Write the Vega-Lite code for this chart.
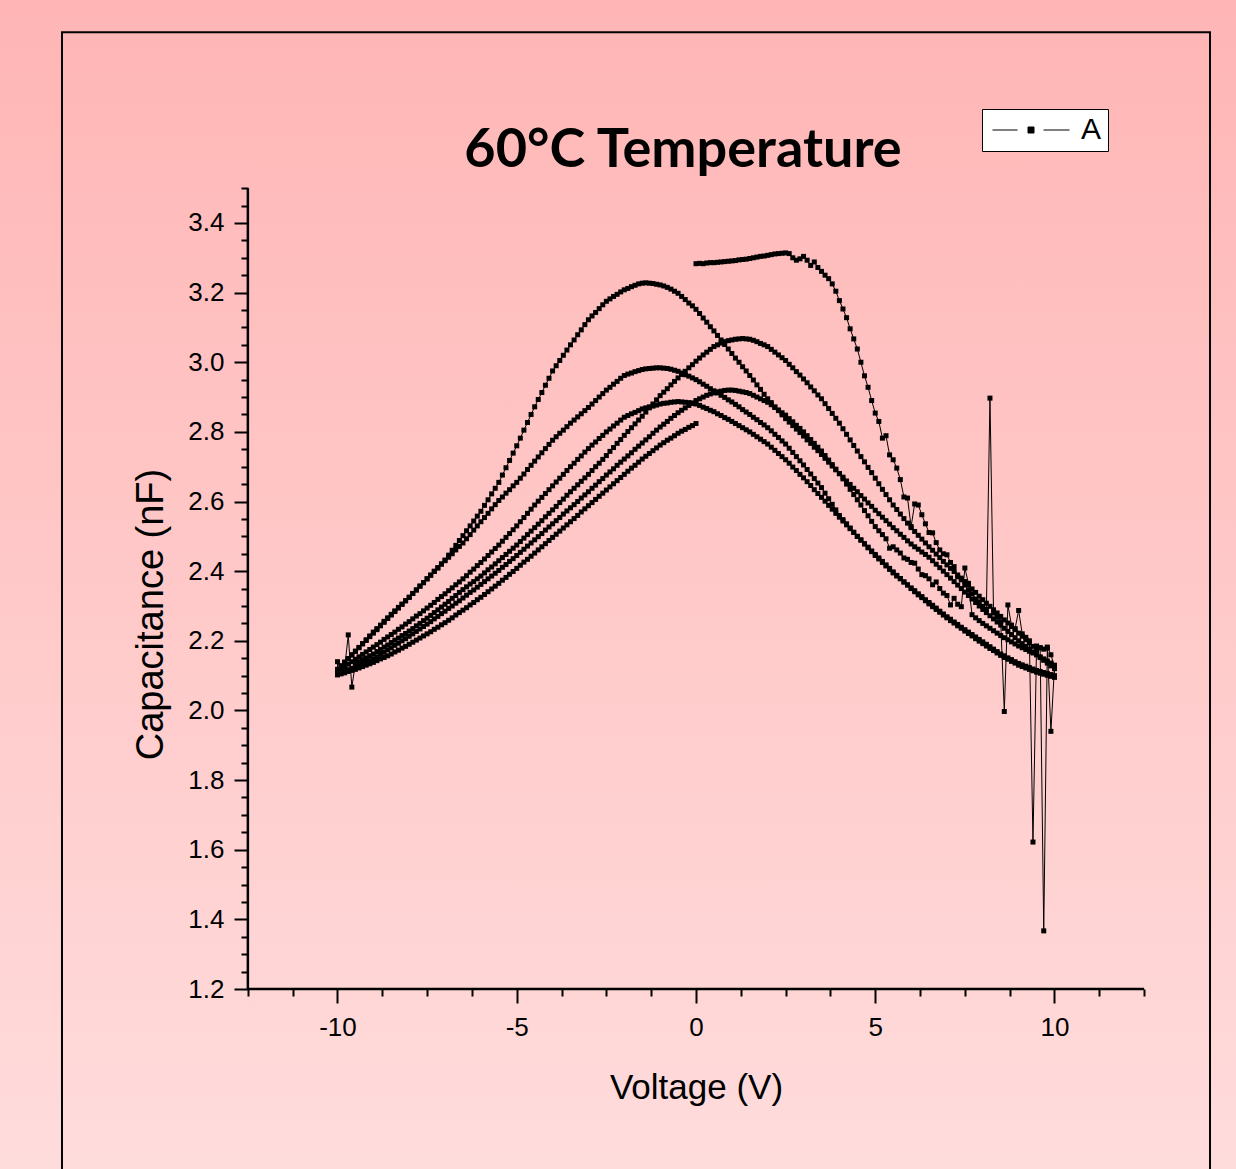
{
"$schema":"https://vega.github.io/schema/vega-lite/v6.json",
"width":1236,"height":1169,
"autosize":{"type":"none"},
"padding":0,
"background":"#FFC8C8",
"config":{"view":{"stroke":null},"font":"Liberation Sans"},
"title":{"text":"60°C Temperature","font":"Lato","fontSize":54,"fontWeight":"bold","color":"black","anchor":"middle","dx":65,"offset":-221,"baseline":"alphabetic"},
"data":{"values":[
{"v":0,"c":3.283},{"v":0.1,"c":3.284},{"v":0.2,"c":3.283},{"v":0.3,"c":3.285},{"v":0.4,"c":3.286},{"v":0.5,"c":3.286},{"v":0.6,"c":3.287},{"v":0.7,"c":3.288},{"v":0.8,"c":3.289},{"v":0.9,"c":3.29},{"v":1,"c":3.291},{"v":1.1,"c":3.292},{"v":1.2,"c":3.294},{"v":1.3,"c":3.295},{"v":1.4,"c":3.296},{"v":1.5,"c":3.298},{"v":1.6,"c":3.3},{"v":1.7,"c":3.302},{"v":1.8,"c":3.304},{"v":1.9,"c":3.305},{"v":2,"c":3.307},{"v":2.1,"c":3.309},{"v":2.2,"c":3.311},{"v":2.3,"c":3.312},{"v":2.4,"c":3.313},{"v":2.5,"c":3.314},{"v":2.6,"c":3.312},{"v":2.7,"c":3.3},{"v":2.8,"c":3.293},{"v":2.9,"c":3.297},{"v":3,"c":3.304},{"v":3.1,"c":3.293},{"v":3.2,"c":3.278},{"v":3.3,"c":3.288},{"v":3.4,"c":3.272},{"v":3.5,"c":3.261},{"v":3.6,"c":3.25},{"v":3.7,"c":3.24},{"v":3.8,"c":3.225},{"v":3.9,"c":3.204},{"v":4,"c":3.177},{"v":4.1,"c":3.153},{"v":4.2,"c":3.128},{"v":4.3,"c":3.096},{"v":4.4,"c":3.067},{"v":4.5,"c":3.038},{"v":4.6,"c":3.0},{"v":4.7,"c":2.961},{"v":4.8,"c":2.928},{"v":4.9,"c":2.89},{"v":5,"c":2.854},{"v":5.1,"c":2.83},{"v":5.2,"c":2.782},{"v":5.3,"c":2.789},{"v":5.4,"c":2.734},{"v":5.5,"c":2.72},{"v":5.6,"c":2.696},{"v":5.7,"c":2.663},{"v":5.8,"c":2.613},{"v":5.9,"c":2.61},{"v":6,"c":2.528},{"v":6.1,"c":2.593},{"v":6.2,"c":2.59},{"v":6.3,"c":2.562},{"v":6.4,"c":2.536},{"v":6.5,"c":2.511},{"v":6.6,"c":2.51},{"v":6.7,"c":2.482},{"v":6.8,"c":2.461},{"v":6.9,"c":2.45},{"v":7,"c":2.447},{"v":7.1,"c":2.425},{"v":7.2,"c":2.413},{"v":7.3,"c":2.384},{"v":7.4,"c":2.375},{"v":7.5,"c":2.36},{"v":7.6,"c":2.345},{"v":7.7,"c":2.335},{"v":7.8,"c":2.32},{"v":7.9,"c":2.312},{"v":8,"c":2.299},{"v":8.1,"c":2.29},{"v":8.2,"c":2.897},{"v":8.3,"c":2.28},{"v":8.4,"c":2.268},{"v":8.5,"c":2.255},{"v":8.6,"c":1.997},{"v":8.7,"c":2.303},{"v":8.8,"c":2.245},{"v":8.9,"c":2.235},{"v":9,"c":2.287},{"v":9.1,"c":2.22},{"v":9.2,"c":2.21},{"v":9.3,"c":2.2},{"v":9.4,"c":1.622},{"v":9.5,"c":2.185},{"v":9.6,"c":2.18},{"v":9.7,"c":1.367},{"v":9.8,"c":2.179},{"v":9.9,"c":1.94},{"v":10,"c":2.126},
{"v":10,"c":2.12},{"v":9.9,"c":2.128},{"v":9.8,"c":2.136},{"v":9.7,"c":2.144},{"v":9.6,"c":2.152},{"v":9.5,"c":2.16},{"v":9.4,"c":2.168},{"v":9.3,"c":2.176},{"v":9.2,"c":2.184},{"v":9.1,"c":2.192},{"v":9,"c":2.2},{"v":8.9,"c":2.209},{"v":8.8,"c":2.218},{"v":8.7,"c":2.227},{"v":8.6,"c":2.236},{"v":8.5,"c":2.245},{"v":8.4,"c":2.254},{"v":8.3,"c":2.263},{"v":8.2,"c":2.272},{"v":8.1,"c":2.281},{"v":8,"c":2.29},{"v":7.9,"c":2.3},{"v":7.8,"c":2.31},{"v":7.7,"c":2.32},{"v":7.6,"c":2.33},{"v":7.5,"c":2.34},{"v":7.4,"c":2.35},{"v":7.3,"c":2.36},{"v":7.2,"c":2.37},{"v":7.1,"c":2.38},{"v":7,"c":2.39},{"v":6.9,"c":2.4},{"v":6.8,"c":2.41},{"v":6.7,"c":2.42},{"v":6.6,"c":2.43},{"v":6.5,"c":2.44},{"v":6.4,"c":2.448},{"v":6.3,"c":2.455},{"v":6.2,"c":2.463},{"v":6.1,"c":2.47},{"v":6,"c":2.478},{"v":5.9,"c":2.487},{"v":5.8,"c":2.497},{"v":5.7,"c":2.506},{"v":5.6,"c":2.516},{"v":5.5,"c":2.525},{"v":5.4,"c":2.535},{"v":5.3,"c":2.545},{"v":5.2,"c":2.555},{"v":5.1,"c":2.565},{"v":5,"c":2.575},{"v":4.9,"c":2.586},{"v":4.8,"c":2.596},{"v":4.7,"c":2.607},{"v":4.6,"c":2.617},{"v":4.5,"c":2.628},{"v":4.4,"c":2.638},{"v":4.3,"c":2.649},{"v":4.2,"c":2.659},{"v":4.1,"c":2.67},{"v":4,"c":2.68},{"v":3.9,"c":2.691},{"v":3.8,"c":2.702},{"v":3.7,"c":2.713},{"v":3.6,"c":2.724},{"v":3.5,"c":2.735},{"v":3.4,"c":2.746},{"v":3.3,"c":2.756},{"v":3.2,"c":2.767},{"v":3.1,"c":2.777},{"v":3,"c":2.788},{"v":2.9,"c":2.798},{"v":2.8,"c":2.808},{"v":2.7,"c":2.818},{"v":2.6,"c":2.828},{"v":2.5,"c":2.838},{"v":2.4,"c":2.849},{"v":2.3,"c":2.861},{"v":2.2,"c":2.872},{"v":2.1,"c":2.884},{"v":2,"c":2.895},{"v":1.9,"c":2.908},{"v":1.8,"c":2.922},{"v":1.7,"c":2.935},{"v":1.6,"c":2.949},{"v":1.5,"c":2.962},{"v":1.4,"c":2.975},{"v":1.3,"c":2.987},{"v":1.2,"c":3.0},{"v":1.1,"c":3.012},{"v":1,"c":3.025},{"v":0.9,"c":3.038},{"v":0.8,"c":3.051},{"v":0.7,"c":3.064},{"v":0.6,"c":3.077},{"v":0.5,"c":3.09},{"v":0.4,"c":3.102},{"v":0.3,"c":3.115},{"v":0.2,"c":3.127},{"v":0.1,"c":3.14},{"v":0,"c":3.152},{"v":-0.1,"c":3.162},{"v":-0.2,"c":3.17},{"v":-0.3,"c":3.18},{"v":-0.4,"c":3.189},{"v":-0.5,"c":3.198},{"v":-0.6,"c":3.204},{"v":-0.7,"c":3.21},{"v":-0.8,"c":3.215},{"v":-0.9,"c":3.219},{"v":-1,"c":3.222},{"v":-1.1,"c":3.224},{"v":-1.2,"c":3.226},{"v":-1.3,"c":3.227},{"v":-1.4,"c":3.228},{"v":-1.5,"c":3.227},{"v":-1.6,"c":3.225},{"v":-1.7,"c":3.221},{"v":-1.8,"c":3.217},{"v":-1.9,"c":3.212},{"v":-2,"c":3.208},{"v":-2.1,"c":3.202},{"v":-2.2,"c":3.195},{"v":-2.3,"c":3.189},{"v":-2.4,"c":3.182},{"v":-2.5,"c":3.175},{"v":-2.6,"c":3.165},{"v":-2.7,"c":3.154},{"v":-2.8,"c":3.143},{"v":-2.9,"c":3.133},{"v":-3,"c":3.122},{"v":-3.1,"c":3.108},{"v":-3.2,"c":3.093},{"v":-3.3,"c":3.079},{"v":-3.4,"c":3.064},{"v":-3.5,"c":3.05},{"v":-3.6,"c":3.035},{"v":-3.7,"c":3.02},{"v":-3.8,"c":3.005},{"v":-3.9,"c":2.99},{"v":-4,"c":2.975},{"v":-4.1,"c":2.954},{"v":-4.2,"c":2.934},{"v":-4.3,"c":2.913},{"v":-4.4,"c":2.893},{"v":-4.5,"c":2.872},{"v":-4.6,"c":2.85},{"v":-4.7,"c":2.827},{"v":-4.8,"c":2.805},{"v":-4.9,"c":2.782},{"v":-5,"c":2.76},{"v":-5.1,"c":2.739},{"v":-5.2,"c":2.718},{"v":-5.3,"c":2.697},{"v":-5.4,"c":2.676},{"v":-5.5,"c":2.655},{"v":-5.6,"c":2.638},{"v":-5.7,"c":2.622},{"v":-5.8,"c":2.605},{"v":-5.9,"c":2.589},{"v":-6,"c":2.572},{"v":-6.1,"c":2.558},{"v":-6.2,"c":2.544},{"v":-6.3,"c":2.53},{"v":-6.4,"c":2.516},{"v":-6.5,"c":2.502},{"v":-6.6,"c":2.488},{"v":-6.7,"c":2.474},{"v":-6.8,"c":2.46},{"v":-6.9,"c":2.446},{"v":-7,"c":2.432},{"v":-7.1,"c":2.421},{"v":-7.2,"c":2.41},{"v":-7.3,"c":2.4},{"v":-7.4,"c":2.389},{"v":-7.5,"c":2.378},{"v":-7.6,"c":2.367},{"v":-7.7,"c":2.357},{"v":-7.8,"c":2.346},{"v":-7.9,"c":2.336},{"v":-8,"c":2.325},{"v":-8.1,"c":2.315},{"v":-8.2,"c":2.305},{"v":-8.3,"c":2.296},{"v":-8.4,"c":2.286},{"v":-8.5,"c":2.276},{"v":-8.6,"c":2.266},{"v":-8.7,"c":2.256},{"v":-8.8,"c":2.245},{"v":-8.9,"c":2.235},{"v":-9,"c":2.225},{"v":-9.1,"c":2.214},{"v":-9.2,"c":2.203},{"v":-9.3,"c":2.192},{"v":-9.4,"c":2.181},{"v":-9.5,"c":2.17},{"v":-9.6,"c":2.159},{"v":-9.7,"c":2.149},{"v":-9.8,"c":2.138},{"v":-9.9,"c":2.128},{"v":-10,"c":2.117},
{"v":-10,"c":2.14},{"v":-9.9,"c":2.118},{"v":-9.8,"c":2.122},{"v":-9.7,"c":2.217},{"v":-9.6,"c":2.067},{"v":-9.5,"c":2.135},{"v":-9.4,"c":2.14},{"v":-9.3,"c":2.146},{"v":-9.2,"c":2.151},{"v":-9.1,"c":2.157},{"v":-9,"c":2.162},{"v":-8.9,"c":2.169},{"v":-8.8,"c":2.175},{"v":-8.7,"c":2.182},{"v":-8.6,"c":2.188},{"v":-8.5,"c":2.195},{"v":-8.4,"c":2.202},{"v":-8.3,"c":2.208},{"v":-8.2,"c":2.215},{"v":-8.1,"c":2.221},{"v":-8,"c":2.228},{"v":-7.9,"c":2.235},{"v":-7.8,"c":2.243},{"v":-7.7,"c":2.25},{"v":-7.6,"c":2.258},{"v":-7.5,"c":2.265},{"v":-7.4,"c":2.273},{"v":-7.3,"c":2.281},{"v":-7.2,"c":2.289},{"v":-7.1,"c":2.297},{"v":-7,"c":2.305},{"v":-6.9,"c":2.313},{"v":-6.8,"c":2.322},{"v":-6.7,"c":2.33},{"v":-6.6,"c":2.339},{"v":-6.5,"c":2.347},{"v":-6.4,"c":2.355},{"v":-6.3,"c":2.363},{"v":-6.2,"c":2.37},{"v":-6.1,"c":2.378},{"v":-6,"c":2.386},{"v":-5.9,"c":2.395},{"v":-5.8,"c":2.404},{"v":-5.7,"c":2.412},{"v":-5.6,"c":2.421},{"v":-5.5,"c":2.43},{"v":-5.4,"c":2.439},{"v":-5.3,"c":2.448},{"v":-5.2,"c":2.457},{"v":-5.1,"c":2.466},{"v":-5,"c":2.475},{"v":-4.9,"c":2.485},{"v":-4.8,"c":2.495},{"v":-4.7,"c":2.505},{"v":-4.6,"c":2.515},{"v":-4.5,"c":2.525},{"v":-4.4,"c":2.535},{"v":-4.3,"c":2.545},{"v":-4.2,"c":2.556},{"v":-4.1,"c":2.566},{"v":-4,"c":2.576},{"v":-3.9,"c":2.586},{"v":-3.8,"c":2.597},{"v":-3.7,"c":2.607},{"v":-3.6,"c":2.618},{"v":-3.5,"c":2.628},{"v":-3.4,"c":2.638},{"v":-3.3,"c":2.648},{"v":-3.2,"c":2.658},{"v":-3.1,"c":2.668},{"v":-3,"c":2.678},{"v":-2.9,"c":2.689},{"v":-2.8,"c":2.7},{"v":-2.7,"c":2.71},{"v":-2.6,"c":2.721},{"v":-2.5,"c":2.732},{"v":-2.4,"c":2.744},{"v":-2.3,"c":2.755},{"v":-2.2,"c":2.767},{"v":-2.1,"c":2.778},{"v":-2,"c":2.79},{"v":-1.9,"c":2.801},{"v":-1.8,"c":2.812},{"v":-1.7,"c":2.823},{"v":-1.6,"c":2.834},{"v":-1.5,"c":2.845},{"v":-1.4,"c":2.857},{"v":-1.3,"c":2.869},{"v":-1.2,"c":2.88},{"v":-1.1,"c":2.892},{"v":-1,"c":2.904},{"v":-0.9,"c":2.914},{"v":-0.8,"c":2.924},{"v":-0.7,"c":2.935},{"v":-0.6,"c":2.945},{"v":-0.5,"c":2.955},{"v":-0.4,"c":2.965},{"v":-0.3,"c":2.974},{"v":-0.2,"c":2.984},{"v":-0.1,"c":2.993},{"v":0,"c":3.003},{"v":0.1,"c":3.012},{"v":0.2,"c":3.021},{"v":0.3,"c":3.029},{"v":0.4,"c":3.037},{"v":0.5,"c":3.045},{"v":0.6,"c":3.05},{"v":0.7,"c":3.055},{"v":0.8,"c":3.059},{"v":0.9,"c":3.062},{"v":1,"c":3.064},{"v":1.1,"c":3.066},{"v":1.2,"c":3.067},{"v":1.3,"c":3.068},{"v":1.4,"c":3.067},{"v":1.5,"c":3.066},{"v":1.6,"c":3.063},{"v":1.7,"c":3.059},{"v":1.8,"c":3.054},{"v":1.9,"c":3.05},{"v":2,"c":3.045},{"v":2.1,"c":3.037},{"v":2.2,"c":3.029},{"v":2.3,"c":3.021},{"v":2.4,"c":3.013},{"v":2.5,"c":3.005},{"v":2.6,"c":2.994},{"v":2.7,"c":2.984},{"v":2.8,"c":2.973},{"v":2.9,"c":2.963},{"v":3,"c":2.952},{"v":3.1,"c":2.941},{"v":3.2,"c":2.929},{"v":3.3,"c":2.918},{"v":3.4,"c":2.906},{"v":3.5,"c":2.895},{"v":3.6,"c":2.881},{"v":3.7,"c":2.867},{"v":3.8,"c":2.853},{"v":3.9,"c":2.839},{"v":4,"c":2.825},{"v":4.1,"c":2.809},{"v":4.2,"c":2.793},{"v":4.3,"c":2.777},{"v":4.4,"c":2.761},{"v":4.5,"c":2.745},{"v":4.6,"c":2.729},{"v":4.7,"c":2.714},{"v":4.8,"c":2.698},{"v":4.9,"c":2.683},{"v":5,"c":2.667},{"v":5.1,"c":2.651},{"v":5.2,"c":2.635},{"v":5.3,"c":2.62},{"v":5.4,"c":2.605},{"v":5.5,"c":2.59},{"v":5.6,"c":2.577},{"v":5.7,"c":2.564},{"v":5.8,"c":2.551},{"v":5.9,"c":2.538},{"v":6,"c":2.525},{"v":6.1,"c":2.514},{"v":6.2,"c":2.503},{"v":6.3,"c":2.492},{"v":6.4,"c":2.481},{"v":6.5,"c":2.47},{"v":6.6,"c":2.46},{"v":6.7,"c":2.449},{"v":6.8,"c":2.439},{"v":6.9,"c":2.428},{"v":7,"c":2.418},{"v":7.1,"c":2.408},{"v":7.2,"c":2.399},{"v":7.3,"c":2.389},{"v":7.4,"c":2.38},{"v":7.5,"c":2.37},{"v":7.6,"c":2.36},{"v":7.7,"c":2.349},{"v":7.8,"c":2.339},{"v":7.9,"c":2.328},{"v":8,"c":2.318},{"v":8.1,"c":2.308},{"v":8.2,"c":2.299},{"v":8.3,"c":2.289},{"v":8.4,"c":2.28},{"v":8.5,"c":2.27},{"v":8.6,"c":2.26},{"v":8.7,"c":2.251},{"v":8.8,"c":2.241},{"v":8.9,"c":2.232},{"v":9,"c":2.222},{"v":9.1,"c":2.213},{"v":9.2,"c":2.203},{"v":9.3,"c":2.194},{"v":9.4,"c":2.184},{"v":9.5,"c":2.175},{"v":9.6,"c":2.18},{"v":9.7,"c":2.176},{"v":9.8,"c":2.182},{"v":9.9,"c":2.16},{"v":10,"c":2.125},
{"v":10,"c":2.1},{"v":9.9,"c":2.103},{"v":9.8,"c":2.106},{"v":9.7,"c":2.109},{"v":9.6,"c":2.112},{"v":9.5,"c":2.115},{"v":9.4,"c":2.119},{"v":9.3,"c":2.123},{"v":9.2,"c":2.127},{"v":9.1,"c":2.131},{"v":9,"c":2.135},{"v":8.9,"c":2.14},{"v":8.8,"c":2.146},{"v":8.7,"c":2.151},{"v":8.6,"c":2.157},{"v":8.5,"c":2.162},{"v":8.4,"c":2.169},{"v":8.3,"c":2.176},{"v":8.2,"c":2.183},{"v":8.1,"c":2.19},{"v":8,"c":2.197},{"v":7.9,"c":2.204},{"v":7.8,"c":2.211},{"v":7.7,"c":2.218},{"v":7.6,"c":2.225},{"v":7.5,"c":2.232},{"v":7.4,"c":2.239},{"v":7.3,"c":2.247},{"v":7.2,"c":2.254},{"v":7.1,"c":2.262},{"v":7,"c":2.269},{"v":6.9,"c":2.277},{"v":6.8,"c":2.285},{"v":6.7,"c":2.294},{"v":6.6,"c":2.302},{"v":6.5,"c":2.31},{"v":6.4,"c":2.318},{"v":6.3,"c":2.327},{"v":6.2,"c":2.335},{"v":6.1,"c":2.344},{"v":6,"c":2.352},{"v":5.9,"c":2.361},{"v":5.8,"c":2.369},{"v":5.7,"c":2.378},{"v":5.6,"c":2.386},{"v":5.5,"c":2.395},{"v":5.4,"c":2.405},{"v":5.3,"c":2.415},{"v":5.2,"c":2.425},{"v":5.1,"c":2.435},{"v":5,"c":2.445},{"v":4.9,"c":2.456},{"v":4.8,"c":2.467},{"v":4.7,"c":2.478},{"v":4.6,"c":2.489},{"v":4.5,"c":2.5},{"v":4.4,"c":2.512},{"v":4.3,"c":2.524},{"v":4.2,"c":2.536},{"v":4.1,"c":2.548},{"v":4,"c":2.56},{"v":3.9,"c":2.576},{"v":3.8,"c":2.592},{"v":3.7,"c":2.608},{"v":3.6,"c":2.624},{"v":3.5,"c":2.64},{"v":3.4,"c":2.653},{"v":3.3,"c":2.666},{"v":3.2,"c":2.679},{"v":3.1,"c":2.692},{"v":3,"c":2.705},{"v":2.9,"c":2.717},{"v":2.8,"c":2.729},{"v":2.7,"c":2.741},{"v":2.6,"c":2.753},{"v":2.5,"c":2.765},{"v":2.4,"c":2.774},{"v":2.3,"c":2.784},{"v":2.2,"c":2.793},{"v":2.1,"c":2.803},{"v":2,"c":2.812},{"v":1.9,"c":2.82},{"v":1.8,"c":2.827},{"v":1.7,"c":2.835},{"v":1.6,"c":2.842},{"v":1.5,"c":2.85},{"v":1.4,"c":2.857},{"v":1.3,"c":2.864},{"v":1.2,"c":2.872},{"v":1.1,"c":2.879},{"v":1,"c":2.886},{"v":0.9,"c":2.892},{"v":0.8,"c":2.899},{"v":0.7,"c":2.905},{"v":0.6,"c":2.912},{"v":0.5,"c":2.918},{"v":0.4,"c":2.924},{"v":0.3,"c":2.931},{"v":0.2,"c":2.937},{"v":0.1,"c":2.944},{"v":0,"c":2.95},{"v":-0.1,"c":2.955},{"v":-0.2,"c":2.96},{"v":-0.3,"c":2.964},{"v":-0.4,"c":2.969},{"v":-0.5,"c":2.974},{"v":-0.6,"c":2.977},{"v":-0.7,"c":2.98},{"v":-0.8,"c":2.982},{"v":-0.9,"c":2.983},{"v":-1,"c":2.984},{"v":-1.1,"c":2.984},{"v":-1.2,"c":2.983},{"v":-1.3,"c":2.982},{"v":-1.4,"c":2.981},{"v":-1.5,"c":2.979},{"v":-1.6,"c":2.976},{"v":-1.7,"c":2.973},{"v":-1.8,"c":2.969},{"v":-1.9,"c":2.966},{"v":-2,"c":2.962},{"v":-2.1,"c":2.954},{"v":-2.2,"c":2.945},{"v":-2.3,"c":2.937},{"v":-2.4,"c":2.928},{"v":-2.5,"c":2.92},{"v":-2.6,"c":2.91},{"v":-2.7,"c":2.9},{"v":-2.8,"c":2.89},{"v":-2.9,"c":2.88},{"v":-3,"c":2.87},{"v":-3.1,"c":2.861},{"v":-3.2,"c":2.852},{"v":-3.3,"c":2.843},{"v":-3.4,"c":2.834},{"v":-3.5,"c":2.825},{"v":-3.6,"c":2.815},{"v":-3.7,"c":2.805},{"v":-3.8,"c":2.796},{"v":-3.9,"c":2.786},{"v":-4,"c":2.776},{"v":-4.1,"c":2.764},{"v":-4.2,"c":2.752},{"v":-4.3,"c":2.74},{"v":-4.4,"c":2.728},{"v":-4.5,"c":2.716},{"v":-4.6,"c":2.704},{"v":-4.7,"c":2.692},{"v":-4.8,"c":2.679},{"v":-4.9,"c":2.667},{"v":-5,"c":2.655},{"v":-5.1,"c":2.645},{"v":-5.2,"c":2.634},{"v":-5.3,"c":2.624},{"v":-5.4,"c":2.613},{"v":-5.5,"c":2.603},{"v":-5.6,"c":2.591},{"v":-5.7,"c":2.579},{"v":-5.8,"c":2.566},{"v":-5.9,"c":2.554},{"v":-6,"c":2.542},{"v":-6.1,"c":2.53},{"v":-6.2,"c":2.518},{"v":-6.3,"c":2.505},{"v":-6.4,"c":2.493},{"v":-6.5,"c":2.481},{"v":-6.6,"c":2.471},{"v":-6.7,"c":2.461},{"v":-6.8,"c":2.45},{"v":-6.9,"c":2.44},{"v":-7,"c":2.43},{"v":-7.1,"c":2.42},{"v":-7.2,"c":2.409},{"v":-7.3,"c":2.399},{"v":-7.4,"c":2.388},{"v":-7.5,"c":2.378},{"v":-7.6,"c":2.367},{"v":-7.7,"c":2.357},{"v":-7.8,"c":2.346},{"v":-7.9,"c":2.336},{"v":-8,"c":2.325},{"v":-8.1,"c":2.315},{"v":-8.2,"c":2.305},{"v":-8.3,"c":2.294},{"v":-8.4,"c":2.284},{"v":-8.5,"c":2.274},{"v":-8.6,"c":2.264},{"v":-8.7,"c":2.253},{"v":-8.8,"c":2.243},{"v":-8.9,"c":2.232},{"v":-9,"c":2.222},{"v":-9.1,"c":2.212},{"v":-9.2,"c":2.201},{"v":-9.3,"c":2.191},{"v":-9.4,"c":2.18},{"v":-9.5,"c":2.17},{"v":-9.6,"c":2.16},{"v":-9.7,"c":2.149},{"v":-9.8,"c":2.139},{"v":-9.9,"c":2.128},{"v":-10,"c":2.118},
{"v":-10,"c":2.105},{"v":-9.9,"c":2.109},{"v":-9.8,"c":2.113},{"v":-9.7,"c":2.117},{"v":-9.6,"c":2.121},{"v":-9.5,"c":2.125},{"v":-9.4,"c":2.13},{"v":-9.3,"c":2.134},{"v":-9.2,"c":2.139},{"v":-9.1,"c":2.143},{"v":-9,"c":2.148},{"v":-8.9,"c":2.154},{"v":-8.8,"c":2.161},{"v":-8.7,"c":2.167},{"v":-8.6,"c":2.174},{"v":-8.5,"c":2.18},{"v":-8.4,"c":2.187},{"v":-8.3,"c":2.193},{"v":-8.2,"c":2.2},{"v":-8.1,"c":2.206},{"v":-8,"c":2.213},{"v":-7.9,"c":2.22},{"v":-7.8,"c":2.227},{"v":-7.7,"c":2.234},{"v":-7.6,"c":2.241},{"v":-7.5,"c":2.248},{"v":-7.4,"c":2.255},{"v":-7.3,"c":2.263},{"v":-7.2,"c":2.27},{"v":-7.1,"c":2.278},{"v":-7,"c":2.285},{"v":-6.9,"c":2.293},{"v":-6.8,"c":2.3},{"v":-6.7,"c":2.308},{"v":-6.6,"c":2.315},{"v":-6.5,"c":2.323},{"v":-6.4,"c":2.331},{"v":-6.3,"c":2.339},{"v":-6.2,"c":2.346},{"v":-6.1,"c":2.354},{"v":-6,"c":2.362},{"v":-5.9,"c":2.37},{"v":-5.8,"c":2.378},{"v":-5.7,"c":2.386},{"v":-5.6,"c":2.394},{"v":-5.5,"c":2.402},{"v":-5.4,"c":2.411},{"v":-5.3,"c":2.419},{"v":-5.2,"c":2.428},{"v":-5.1,"c":2.436},{"v":-5,"c":2.445},{"v":-4.9,"c":2.454},{"v":-4.8,"c":2.463},{"v":-4.7,"c":2.472},{"v":-4.6,"c":2.481},{"v":-4.5,"c":2.49},{"v":-4.4,"c":2.499},{"v":-4.3,"c":2.508},{"v":-4.2,"c":2.518},{"v":-4.1,"c":2.527},{"v":-4,"c":2.536},{"v":-3.9,"c":2.545},{"v":-3.8,"c":2.554},{"v":-3.7,"c":2.564},{"v":-3.6,"c":2.573},{"v":-3.5,"c":2.582},{"v":-3.4,"c":2.591},{"v":-3.3,"c":2.6},{"v":-3.2,"c":2.61},{"v":-3.1,"c":2.619},{"v":-3,"c":2.628},{"v":-2.9,"c":2.638},{"v":-2.8,"c":2.647},{"v":-2.7,"c":2.657},{"v":-2.6,"c":2.666},{"v":-2.5,"c":2.676},{"v":-2.4,"c":2.685},{"v":-2.3,"c":2.694},{"v":-2.2,"c":2.704},{"v":-2.1,"c":2.713},{"v":-2,"c":2.722},{"v":-1.9,"c":2.731},{"v":-1.8,"c":2.74},{"v":-1.7,"c":2.75},{"v":-1.6,"c":2.759},{"v":-1.5,"c":2.768},{"v":-1.4,"c":2.777},{"v":-1.3,"c":2.786},{"v":-1.2,"c":2.796},{"v":-1.1,"c":2.805},{"v":-1,"c":2.814},{"v":-0.9,"c":2.822},{"v":-0.8,"c":2.83},{"v":-0.7,"c":2.839},{"v":-0.6,"c":2.847},{"v":-0.5,"c":2.855},{"v":-0.4,"c":2.862},{"v":-0.3,"c":2.869},{"v":-0.2,"c":2.876},{"v":-0.1,"c":2.883},{"v":0,"c":2.89},{"v":0.1,"c":2.895},{"v":0.2,"c":2.9},{"v":0.3,"c":2.905},{"v":0.4,"c":2.909},{"v":0.5,"c":2.912},{"v":0.6,"c":2.915},{"v":0.7,"c":2.917},{"v":0.8,"c":2.919},{"v":0.9,"c":2.92},{"v":1,"c":2.92},{"v":1.1,"c":2.919},{"v":1.2,"c":2.917},{"v":1.3,"c":2.915},{"v":1.4,"c":2.913},{"v":1.5,"c":2.91},{"v":1.6,"c":2.905},{"v":1.7,"c":2.9},{"v":1.8,"c":2.895},{"v":1.9,"c":2.89},{"v":2,"c":2.885},{"v":2.1,"c":2.878},{"v":2.2,"c":2.87},{"v":2.3,"c":2.863},{"v":2.4,"c":2.855},{"v":2.5,"c":2.848},{"v":2.6,"c":2.838},{"v":2.7,"c":2.829},{"v":2.8,"c":2.819},{"v":2.9,"c":2.81},{"v":3,"c":2.8},{"v":3.1,"c":2.789},{"v":3.2,"c":2.778},{"v":3.3,"c":2.767},{"v":3.4,"c":2.756},{"v":3.5,"c":2.745},{"v":3.6,"c":2.732},{"v":3.7,"c":2.719},{"v":3.8,"c":2.706},{"v":3.9,"c":2.693},{"v":4,"c":2.68},{"v":4.1,"c":2.665},{"v":4.2,"c":2.65},{"v":4.3,"c":2.635},{"v":4.4,"c":2.62},{"v":4.5,"c":2.605},{"v":4.6,"c":2.59},{"v":4.7,"c":2.574},{"v":4.8,"c":2.559},{"v":4.9,"c":2.543},{"v":5,"c":2.528},{"v":5.1,"c":2.516},{"v":5.2,"c":2.505},{"v":5.3,"c":2.493},{"v":5.4,"c":2.466},{"v":5.5,"c":2.47},{"v":5.6,"c":2.461},{"v":5.7,"c":2.452},{"v":5.8,"c":2.438},{"v":5.9,"c":2.434},{"v":6,"c":2.425},{"v":6.1,"c":2.423},{"v":6.2,"c":2.406},{"v":6.3,"c":2.39},{"v":6.4,"c":2.387},{"v":6.5,"c":2.378},{"v":6.6,"c":2.361},{"v":6.7,"c":2.369},{"v":6.8,"c":2.35},{"v":6.9,"c":2.337},{"v":7,"c":2.33},{"v":7.1,"c":2.303},{"v":7.2,"c":2.322},{"v":7.3,"c":2.305},{"v":7.4,"c":2.298},{"v":7.5,"c":2.409},{"v":7.6,"c":2.365},{"v":7.7,"c":2.275},{"v":7.8,"c":2.266},{"v":7.9,"c":2.258},{"v":8,"c":2.25},{"v":8.1,"c":2.243},{"v":8.2,"c":2.236},{"v":8.3,"c":2.229},{"v":8.4,"c":2.222},{"v":8.5,"c":2.215},{"v":8.6,"c":2.209},{"v":8.7,"c":2.203},{"v":8.8,"c":2.197},{"v":8.9,"c":2.191},{"v":9,"c":2.185},{"v":9.1,"c":2.18},{"v":9.2,"c":2.175},{"v":9.3,"c":2.17},{"v":9.4,"c":2.165},{"v":9.5,"c":2.16},{"v":9.6,"c":2.154},{"v":9.7,"c":2.148},{"v":9.8,"c":2.142},{"v":9.9,"c":2.136},{"v":10,"c":2.13},
{"v":10,"c":2.095},{"v":9.9,"c":2.098},{"v":9.8,"c":2.101},{"v":9.7,"c":2.104},{"v":9.6,"c":2.107},{"v":9.5,"c":2.11},{"v":9.4,"c":2.114},{"v":9.3,"c":2.118},{"v":9.2,"c":2.122},{"v":9.1,"c":2.126},{"v":9,"c":2.13},{"v":8.9,"c":2.136},{"v":8.8,"c":2.141},{"v":8.7,"c":2.147},{"v":8.6,"c":2.152},{"v":8.5,"c":2.158},{"v":8.4,"c":2.165},{"v":8.3,"c":2.172},{"v":8.2,"c":2.178},{"v":8.1,"c":2.185},{"v":8,"c":2.192},{"v":7.9,"c":2.199},{"v":7.8,"c":2.206},{"v":7.7,"c":2.214},{"v":7.6,"c":2.221},{"v":7.5,"c":2.228},{"v":7.4,"c":2.236},{"v":7.3,"c":2.243},{"v":7.2,"c":2.251},{"v":7.1,"c":2.258},{"v":7,"c":2.266},{"v":6.9,"c":2.274},{"v":6.8,"c":2.282},{"v":6.7,"c":2.29},{"v":6.6,"c":2.298},{"v":6.5,"c":2.306},{"v":6.4,"c":2.315},{"v":6.3,"c":2.324},{"v":6.2,"c":2.332},{"v":6.1,"c":2.341},{"v":6,"c":2.35},{"v":5.9,"c":2.36},{"v":5.8,"c":2.369},{"v":5.7,"c":2.379},{"v":5.6,"c":2.388},{"v":5.5,"c":2.398},{"v":5.4,"c":2.408},{"v":5.3,"c":2.418},{"v":5.2,"c":2.428},{"v":5.1,"c":2.438},{"v":5,"c":2.448},{"v":4.9,"c":2.458},{"v":4.8,"c":2.469},{"v":4.7,"c":2.479},{"v":4.6,"c":2.49},{"v":4.5,"c":2.5},{"v":4.4,"c":2.511},{"v":4.3,"c":2.522},{"v":4.2,"c":2.533},{"v":4.1,"c":2.544},{"v":4,"c":2.555},{"v":3.9,"c":2.566},{"v":3.8,"c":2.578},{"v":3.7,"c":2.589},{"v":3.6,"c":2.601},{"v":3.5,"c":2.612},{"v":3.4,"c":2.623},{"v":3.3,"c":2.634},{"v":3.2,"c":2.646},{"v":3.1,"c":2.657},{"v":3,"c":2.668},{"v":2.9,"c":2.678},{"v":2.8,"c":2.689},{"v":2.7,"c":2.699},{"v":2.6,"c":2.71},{"v":2.5,"c":2.72},{"v":2.4,"c":2.729},{"v":2.3,"c":2.738},{"v":2.2,"c":2.747},{"v":2.1,"c":2.756},{"v":2,"c":2.765},{"v":1.9,"c":2.772},{"v":1.8,"c":2.779},{"v":1.7,"c":2.786},{"v":1.6,"c":2.793},{"v":1.5,"c":2.8},{"v":1.4,"c":2.806},{"v":1.3,"c":2.812},{"v":1.2,"c":2.818},{"v":1.1,"c":2.824},{"v":1,"c":2.83},{"v":0.9,"c":2.836},{"v":0.8,"c":2.841},{"v":0.7,"c":2.847},{"v":0.6,"c":2.852},{"v":0.5,"c":2.858},{"v":0.4,"c":2.862},{"v":0.3,"c":2.867},{"v":0.2,"c":2.871},{"v":0.1,"c":2.876},{"v":0,"c":2.88},{"v":-0.1,"c":2.882},{"v":-0.2,"c":2.884},{"v":-0.3,"c":2.885},{"v":-0.4,"c":2.886},{"v":-0.5,"c":2.887},{"v":-0.6,"c":2.886},{"v":-0.7,"c":2.885},{"v":-0.8,"c":2.883},{"v":-0.9,"c":2.882},{"v":-1,"c":2.88},{"v":-1.1,"c":2.877},{"v":-1.2,"c":2.874},{"v":-1.3,"c":2.872},{"v":-1.4,"c":2.869},{"v":-1.5,"c":2.866},{"v":-1.6,"c":2.861},{"v":-1.7,"c":2.856},{"v":-1.8,"c":2.852},{"v":-1.9,"c":2.847},{"v":-2,"c":2.842},{"v":-2.1,"c":2.834},{"v":-2.2,"c":2.825},{"v":-2.3,"c":2.817},{"v":-2.4,"c":2.808},{"v":-2.5,"c":2.8},{"v":-2.6,"c":2.79},{"v":-2.7,"c":2.781},{"v":-2.8,"c":2.771},{"v":-2.9,"c":2.762},{"v":-3,"c":2.752},{"v":-3.1,"c":2.742},{"v":-3.2,"c":2.731},{"v":-3.3,"c":2.721},{"v":-3.4,"c":2.71},{"v":-3.5,"c":2.7},{"v":-3.6,"c":2.689},{"v":-3.7,"c":2.678},{"v":-3.8,"c":2.667},{"v":-3.9,"c":2.656},{"v":-4,"c":2.645},{"v":-4.1,"c":2.634},{"v":-4.2,"c":2.623},{"v":-4.3,"c":2.612},{"v":-4.4,"c":2.601},{"v":-4.5,"c":2.59},{"v":-4.6,"c":2.578},{"v":-4.7,"c":2.566},{"v":-4.8,"c":2.554},{"v":-4.9,"c":2.542},{"v":-5,"c":2.53},{"v":-5.1,"c":2.519},{"v":-5.2,"c":2.508},{"v":-5.3,"c":2.497},{"v":-5.4,"c":2.486},{"v":-5.5,"c":2.475},{"v":-5.6,"c":2.465},{"v":-5.7,"c":2.455},{"v":-5.8,"c":2.445},{"v":-5.9,"c":2.435},{"v":-6,"c":2.425},{"v":-6.1,"c":2.416},{"v":-6.2,"c":2.406},{"v":-6.3,"c":2.397},{"v":-6.4,"c":2.387},{"v":-6.5,"c":2.378},{"v":-6.6,"c":2.369},{"v":-6.7,"c":2.361},{"v":-6.8,"c":2.352},{"v":-6.9,"c":2.344},{"v":-7,"c":2.335},{"v":-7.1,"c":2.327},{"v":-7.2,"c":2.319},{"v":-7.3,"c":2.31},{"v":-7.4,"c":2.302},{"v":-7.5,"c":2.294},{"v":-7.6,"c":2.286},{"v":-7.7,"c":2.278},{"v":-7.8,"c":2.271},{"v":-7.9,"c":2.263},{"v":-8,"c":2.255},{"v":-8.1,"c":2.248},{"v":-8.2,"c":2.24},{"v":-8.3,"c":2.233},{"v":-8.4,"c":2.225},{"v":-8.5,"c":2.218},{"v":-8.6,"c":2.211},{"v":-8.7,"c":2.204},{"v":-8.8,"c":2.196},{"v":-8.9,"c":2.189},{"v":-9,"c":2.182},{"v":-9.1,"c":2.175},{"v":-9.2,"c":2.168},{"v":-9.3,"c":2.161},{"v":-9.4,"c":2.154},{"v":-9.5,"c":2.147},{"v":-9.6,"c":2.14},{"v":-9.7,"c":2.133},{"v":-9.8,"c":2.126},{"v":-9.9,"c":2.119},{"v":-10,"c":2.112},
{"v":-10,"c":2.102},{"v":-9.9,"c":2.105},{"v":-9.8,"c":2.108},{"v":-9.7,"c":2.112},{"v":-9.6,"c":2.115},{"v":-9.5,"c":2.118},{"v":-9.4,"c":2.122},{"v":-9.3,"c":2.126},{"v":-9.2,"c":2.13},{"v":-9.1,"c":2.134},{"v":-9,"c":2.138},{"v":-8.9,"c":2.143},{"v":-8.8,"c":2.148},{"v":-8.7,"c":2.152},{"v":-8.6,"c":2.157},{"v":-8.5,"c":2.162},{"v":-8.4,"c":2.168},{"v":-8.3,"c":2.173},{"v":-8.2,"c":2.179},{"v":-8.1,"c":2.184},{"v":-8,"c":2.19},{"v":-7.9,"c":2.196},{"v":-7.8,"c":2.202},{"v":-7.7,"c":2.208},{"v":-7.6,"c":2.214},{"v":-7.5,"c":2.22},{"v":-7.4,"c":2.226},{"v":-7.3,"c":2.233},{"v":-7.2,"c":2.239},{"v":-7.1,"c":2.246},{"v":-7,"c":2.252},{"v":-6.9,"c":2.259},{"v":-6.8,"c":2.266},{"v":-6.7,"c":2.274},{"v":-6.6,"c":2.281},{"v":-6.5,"c":2.288},{"v":-6.4,"c":2.295},{"v":-6.3,"c":2.303},{"v":-6.2,"c":2.31},{"v":-6.1,"c":2.318},{"v":-6,"c":2.325},{"v":-5.9,"c":2.333},{"v":-5.8,"c":2.341},{"v":-5.7,"c":2.349},{"v":-5.6,"c":2.357},{"v":-5.5,"c":2.365},{"v":-5.4,"c":2.374},{"v":-5.3,"c":2.382},{"v":-5.2,"c":2.391},{"v":-5.1,"c":2.399},{"v":-5,"c":2.408},{"v":-4.9,"c":2.417},{"v":-4.8,"c":2.426},{"v":-4.7,"c":2.434},{"v":-4.6,"c":2.443},{"v":-4.5,"c":2.452},{"v":-4.4,"c":2.461},{"v":-4.3,"c":2.47},{"v":-4.2,"c":2.479},{"v":-4.1,"c":2.488},{"v":-4,"c":2.497},{"v":-3.9,"c":2.506},{"v":-3.8,"c":2.515},{"v":-3.7,"c":2.524},{"v":-3.6,"c":2.533},{"v":-3.5,"c":2.542},{"v":-3.4,"c":2.551},{"v":-3.3,"c":2.56},{"v":-3.2,"c":2.57},{"v":-3.1,"c":2.579},{"v":-3,"c":2.588},{"v":-2.9,"c":2.597},{"v":-2.8,"c":2.606},{"v":-2.7,"c":2.615},{"v":-2.6,"c":2.624},{"v":-2.5,"c":2.633},{"v":-2.4,"c":2.642},{"v":-2.3,"c":2.651},{"v":-2.2,"c":2.66},{"v":-2.1,"c":2.669},{"v":-2,"c":2.678},{"v":-1.9,"c":2.687},{"v":-1.8,"c":2.696},{"v":-1.7,"c":2.704},{"v":-1.6,"c":2.713},{"v":-1.5,"c":2.722},{"v":-1.4,"c":2.73},{"v":-1.3,"c":2.738},{"v":-1.2,"c":2.746},{"v":-1.1,"c":2.754},{"v":-1,"c":2.762},{"v":-0.9,"c":2.769},{"v":-0.8,"c":2.776},{"v":-0.7,"c":2.782},{"v":-0.6,"c":2.789},{"v":-0.5,"c":2.796},{"v":-0.4,"c":2.802},{"v":-0.3,"c":2.807},{"v":-0.2,"c":2.813},{"v":-0.1,"c":2.818},{"v":0,"c":2.824}
]},
"layer":[
{"data":{"values":[{}]},"mark":{"type":"rect","strokeWidth":0,"fill":{"gradient":"linear","x1":0,"y1":0,"x2":0,"y2":1,"stops":[{"offset":0,"color":"#FFB5B5"},{"offset":1,"color":"#FFDCDC"}]}},
 "encoding":{"x":{"datum":-19.414,"type":"quantitative","scale":{"domain":[-19.414,15.063],"nice":false,"zero":false},"axis":null},"x2":{"datum":15.063},"y":{"datum":0.6831,"type":"quantitative","scale":{"domain":[0.6831,4.0403],"nice":false,"zero":false},"axis":null},"y2":{"datum":4.0403}}},
{"data":{"values":[{}]},"mark":{"type":"rect","stroke":"black","strokeWidth":2,"fill":null,"clip":false},
 "encoding":{"x":{"datum":-17.685,"type":"quantitative","axis":null},"x2":{"datum":14.338},"y":{"datum":0.5596,"type":"quantitative","axis":null},"y2":{"datum":3.948}}},
{"mark":{"type":"line","color":"black","strokeWidth":1},
 "encoding":{
  "x":{"field":"v","type":"quantitative","scale":{"domain":[-19.414,15.063],"nice":false,"zero":false},
   "axis":{"orient":"bottom","offset":-180,"zindex":2,"values":[-10,-5,0,5,10],"labelExpr":"'' + datum.value","domain":false,"grid":false,"tickSize":14,"tickWidth":2,"tickColor":"black","labelFontSize":26,"labelColor":"black","labelFont":"Liberation Sans","labelPadding":11,"labelOverlap":false,"labelFlush":false,"title":"Voltage (V)","titleFont":"Liberation Sans","titleFontSize":35,"titleFontWeight":"normal","titleColor":"black","titleX":696,"titleY":109,"titleBaseline":"alphabetic"}},
  "y":{"field":"c","type":"quantitative","scale":{"domain":[0.6831,4.0403],"nice":false,"zero":false},
   "axis":{"orient":"left","offset":-248,"zindex":2,"values":[1.2,1.4,1.6,1.8,2.0,2.2,2.4,2.6,2.8,3.0,3.2,3.4],"format":".1f","domain":false,"grid":false,"tickSize":14,"tickWidth":2,"tickColor":"black","labelFontSize":26,"labelColor":"black","labelFont":"Liberation Sans","labelPadding":10,"labelOverlap":false,"labelFlush":false,"title":"Capacitance (nF)","titleFont":"Liberation Sans","titleFontSize":38,"titleFontWeight":"normal","titleColor":"black","titlePadding":17,"titleY":614}},
  "order":{"value":null},
  "color":{"datum":"A","scale":{"range":["black"]},
   "legend":{"orient":"none","legendX":982,"legendY":109,"zindex":3,"title":null,"fillColor":"white","strokeColor":"black","padding":6,"cornerRadius":0,"symbolType":"M-3.85,0H-1.35M1.25,0H3.85M-0.3,-0.3H0.3V0.3H-0.3Z","symbolSize":400,"symbolStrokeWidth":1,"symbolOffset":28,"labelOffset":35,"labelFontSize":30,"labelFont":"Liberation Sans","labelColor":"black",
    "encode":{"symbols":{"update":{"fill":{"value":"black"},"stroke":{"value":"black"}}}}}}
 }},
{"mark":{"type":"point","shape":"square","filled":true,"size":25,"color":"black","opacity":1},
 "encoding":{
  "x":{"field":"v","type":"quantitative","scale":{"domain":[-19.414,15.063],"nice":false,"zero":false},
   "axis":{"orient":"bottom","offset":-180,"zindex":2,"values":[-12.5,-11.25,-8.75,-7.5,-6.25,-3.75,-2.5,-1.25,1.25,2.5,3.75,6.25,7.5,8.75,11.25,12.5],"domain":false,"grid":false,"labels":false,"title":null,"tickSize":7,"tickWidth":2,"tickColor":"black"}},
  "y":{"field":"c","type":"quantitative","scale":{"domain":[0.6831,4.0403],"nice":false,"zero":false},
   "axis":{"orient":"left","offset":-248,"zindex":2,"values":[1.25,1.3,1.35,1.45,1.5,1.55,1.65,1.7,1.75,1.85,1.9,1.95,2.05,2.1,2.15,2.25,2.3,2.35,2.45,2.5,2.55,2.65,2.7,2.75,2.85,2.9,2.95,3.05,3.1,3.15,3.25,3.3,3.35,3.45,3.5],"domain":false,"grid":false,"labels":false,"title":null,"tickSize":7,"tickWidth":2,"tickColor":"black"}}
 }},
{"data":{"values":[{}]},"mark":{"type":"rule","color":"black","strokeWidth":2.5},
 "encoding":{"x":{"datum":-12.5,"type":"quantitative","axis":null},"x2":{"datum":12.5},"y":{"datum":1.2,"type":"quantitative","axis":null}}},
{"data":{"values":[{}]},"mark":{"type":"rule","color":"black","strokeWidth":2.5},
 "encoding":{"x":{"datum":-12.5,"type":"quantitative","axis":null},"y":{"datum":1.2,"type":"quantitative","axis":null},"y2":{"datum":3.5}}}
],
"resolve":{"axis":{"x":"independent","y":"independent"}}
}
